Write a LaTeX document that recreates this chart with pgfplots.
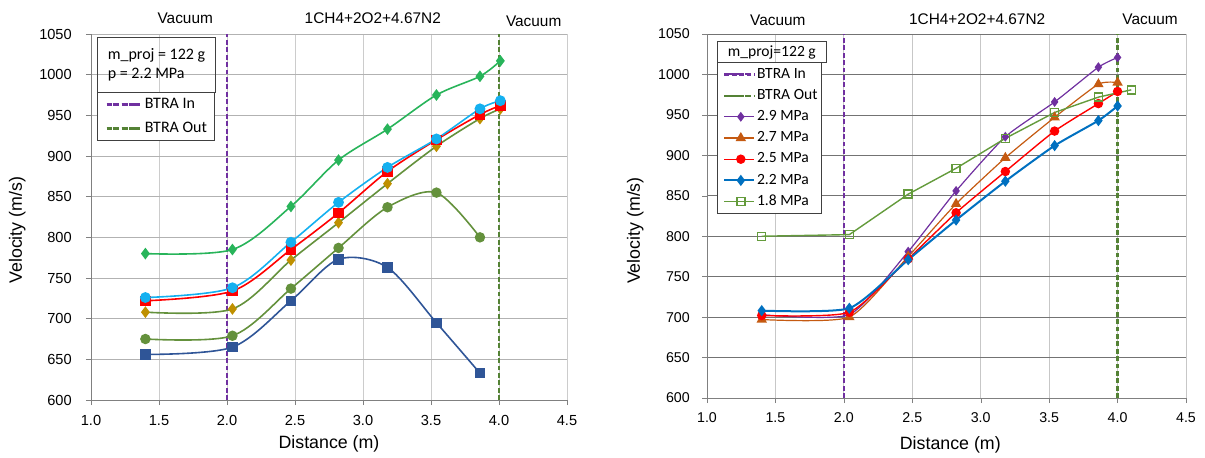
\documentclass[border=0pt]{standalone}
\usepackage{fontspec}
\setmainfont{Liberation Sans}
\newfontfamily\calib{Carlito}
\usepackage{pgfplots}
\pgfplotsset{compat=1.18}

\definecolor{cGreen}{RGB}{40,180,90}
\definecolor{cCyan}{RGB}{20,176,240}
\definecolor{cGold}{RGB}{191,144,0}
\definecolor{cOlive}{RGB}{100,145,60}
\definecolor{cNavy}{RGB}{47,85,151}
\definecolor{cPurple}{RGB}{112,48,160}
\definecolor{cDkGreen}{RGB}{84,130,53}
\definecolor{cOrange}{RGB}{197,90,17}
\definecolor{cBlue}{RGB}{0,112,192}
\definecolor{cLtGreen}{RGB}{100,155,60}

\newcommand{\lent}[3]{\makebox[#1][l]{\hspace*{#2}#3}}

\pgfplotsset{
  common/.style={
    scale only axis, clip=false,
    xmin=1, xmax=4.5, ymin=600, ymax=1050,
    xtick={1,1.5,...,4.5}, ytick={600,650,...,1050},
    axis x line*=bottom, axis y line*=left,
    axis line style={draw=black!50},
    tick align=outside, major tick length=2.5pt,
    tick style={draw=black!50},
    grid=major,
    /pgf/number format/assume math mode=true,
    xticklabel style={/pgf/number format/fixed, /pgf/number format/fixed zerofill,
      /pgf/number format/precision=1},
    yticklabel style={/pgf/number format/1000 sep={}},
    xlabel={Distance (m)}, ylabel={Velocity (m/s)},
    label style={font=\fontsize{8.9}{10}\selectfont},
  },
  dashlegL/.style={legend image code/.code={
      \path (0pt,0pt) -- (16.5pt,0pt);
      \draw[##1, line width=1.1pt, dash pattern=on 3pt off 1.5pt] (3pt,0pt) -- (16.5pt,0pt);}},
  dashlegR/.style={legend image code/.code={
      \path (0pt,0pt) -- (15pt,0pt);
      \draw[##1, line width=1pt, dash pattern=on 3pt off 1.5pt] (1.5pt,0pt) -- (15pt,0pt);}},
  marklegR/.style={legend image code/.code={
      \path (0pt,0pt) -- (15pt,0pt);
      \draw[##1, mark repeat=2, mark phase=2]
        plot coordinates {(1.5pt,0pt) (8.25pt,0pt) (15pt,0pt)};}},
}

\begin{document}
\begin{tikzpicture}[x=1pt,y=1pt]

% ---------------- left chart ----------------
\begin{axis}[common,
    at={(45.5pt,-200pt)}, anchor=south west,
    width=238pt, height=183pt,
    x grid style={black!20}, y grid style={black!30},
    ticklabel style={font=\fontsize{7.3}{8}\selectfont},
    xticklabel style={yshift=-1.5pt},
    yticklabel style={xshift=-3.6pt},
    xlabel style={at={(axis description cs:0.5,0)}, anchor=center, yshift=-22pt},
    ylabel style={at={(axis description cs:-0.155,0.464)}, anchor=center},
    legend style={at={(axis description cs:0.0126,0.8415)}, anchor=north west,
      draw=black!75, line width=0.5pt, inner xsep=4pt, inner ysep=0pt,
      row sep=0pt, font=\calib\fontsize{8}{9}\selectfont,
      nodes={text height=5.6pt, text depth=1.6pt, inner ysep=2.4pt, inner xsep=1pt}},
    legend cell align=left,
  ]
  \addplot[cPurple, line width=1.2pt, dash pattern=on 2.4pt off 1.3pt, dashlegL]
    coordinates {(2,600) (2,1050)};
  \addlegendentry{\lent{31pt}{1pt}{BTRA In}}
  \addplot[cDkGreen, line width=1.2pt, dash pattern=on 2.4pt off 1.3pt, dashlegL]
    coordinates {(4,600) (4,1050)};
  \addlegendentry{\lent{31pt}{1pt}{BTRA Out}}

  \addplot[forget plot, cGreen, line width=0.8pt, smooth, tension=0.5,
    mark=diamond*, mark size=2.3pt] coordinates {
    (1.40,780) (2.04,785) (2.47,838) (2.82,895) (3.18,933) (3.54,975) (3.86,998) (4.01,1017)};
  \addplot[forget plot, cOlive, line width=0.8pt, smooth, tension=0.5,
    mark=*, mark size=2.2pt] coordinates {
    (1.40,675) (2.04,679) (2.47,737) (2.82,787) (3.18,837) (3.54,855) (3.86,800)};
  \addplot[forget plot, cNavy, line width=0.8pt, smooth, tension=0.5,
    mark=square*, mark size=2.2pt] coordinates {
    (1.40,656) (2.04,665) (2.47,722) (2.82,773) (3.18,763) (3.54,695) (3.86,633)};
  \addplot[forget plot, cOlive, line width=0.8pt, smooth, tension=0.5,
    mark=diamond*, mark size=2.3pt, mark options={cGold}] coordinates {
    (1.40,708) (2.04,712) (2.47,772) (2.82,818) (3.18,866) (3.54,912) (3.86,946) (4.01,958)};
  \addplot[forget plot, red, line width=0.8pt, smooth, tension=0.5,
    mark=square*, mark size=2.2pt] coordinates {
    (1.40,722) (2.04,734) (2.47,785) (2.82,830) (3.18,881) (3.54,920) (3.86,951) (4.01,962)};
  \addplot[forget plot, cCyan, line width=0.8pt, smooth, tension=0.5,
    mark=*, mark size=2.3pt] coordinates {
    (1.40,726) (2.04,738) (2.47,794) (2.82,843) (3.18,886) (3.54,921) (3.86,958) (4.01,968)};

  \node[draw=black!75, line width=0.5pt, anchor=north west, minimum width=59pt,
    minimum height=27.5pt, align=left, inner xsep=4pt,
    font=\calib\fontsize{8}{9.4}\selectfont]
    at (axis description cs:0.0126,0.9918) {m\_proj = 122 g\\p = 2.2 MPa};

  \node[anchor=base, font=\fontsize{7.7}{9}\selectfont] at (axis description cs:0.198,1) [yshift=5.5pt] {Vacuum};
  \node[anchor=base, font=\fontsize{7.7}{9}\selectfont] at (axis description cs:0.592,1) [yshift=5.5pt] {1CH4+2O2+4.67N2};
  \node[anchor=base, font=\fontsize{7.7}{9}\selectfont] at (axis description cs:0.930,1) [yshift=4pt] {Vacuum};
\end{axis}

% ---------------- right chart ----------------
\begin{axis}[common,
    at={(353.5pt,-199pt)}, anchor=south west,
    width=239.5pt, height=182pt,
    x grid style={black!22}, y grid style={black!55},
    ticklabel style={font=\fontsize{7.1}{8}\selectfont},
    xticklabel style={yshift=-1.5pt},
    yticklabel style={xshift=-2.6pt},
    xlabel style={at={(axis description cs:0.508,0)}, anchor=center, yshift=-23.5pt},
    ylabel style={at={(axis description cs:-0.150,0.46)}, anchor=center},
    legend style={at={(axis description cs:0.0203,0.9223)}, anchor=north west,
      draw=black!75, line width=0.5pt, inner xsep=3pt, inner ysep=0.5pt,
      row sep=0pt, font=\calib\fontsize{7.8}{8.5}\selectfont,
      nodes={text height=5.2pt, text depth=1.5pt, inner ysep=1.95pt, inner xsep=0.8pt}},
    legend cell align=left,
  ]
  \addplot[cPurple, line width=1.1pt, dash pattern=on 2.4pt off 1.3pt, dashlegR]
    coordinates {(2,600) (2,1050)};
  \addlegendentry{\lent{28.5pt}{0pt}{BTRA In}}
  \addplot[cDkGreen, line width=1.1pt, dash pattern=on 2.4pt off 1.3pt, dashlegR]
    coordinates {(4,600) (4,1050)};
  \addlegendentry{\lent{28.5pt}{0pt}{BTRA Out}}

  \addplot[cPurple, line width=0.6pt, smooth, tension=0.35, marklegR,
    mark=diamond*, mark size=2pt] coordinates {
    (1.40,703) (2.04,703) (2.47,781) (2.82,856) (3.18,923) (3.54,966) (3.86,1009) (4.00,1021)};
  \addlegendentry{\lent{28.5pt}{0pt}{2.9 MPa}}
  \addplot[cOrange, line width=0.6pt, smooth, tension=0.35, marklegR,
    mark=triangle*, mark size=2.4pt] coordinates {
    (1.40,697) (2.04,700) (2.47,775) (2.82,840) (3.18,897) (3.54,947) (3.86,988) (4.00,990)};
  \addlegendentry{\lent{28.5pt}{0pt}{2.7 MPa}}
  \addplot[red, line width=0.7pt, smooth, tension=0.35, marklegR,
    mark=*, mark size=2pt] coordinates {
    (1.40,702) (2.04,706) (2.47,772) (2.82,829) (3.18,880) (3.54,930) (3.86,964) (4.00,979)};
  \addlegendentry{\lent{28.5pt}{0pt}{2.5 MPa}}
  \addplot[cBlue, line width=1pt, smooth, tension=0.35, marklegR,
    mark=diamond*, mark size=2pt] coordinates {
    (1.40,708) (2.04,711) (2.47,771) (2.82,820) (3.18,868) (3.54,912) (3.86,943) (4.00,961)};
  \addlegendentry{\lent{28.5pt}{0pt}{2.2 MPa}}
  \addplot[cLtGreen, line width=0.7pt, marklegR,
    mark=square, mark size=2pt, mark options={fill=white, line width=0.7pt}] coordinates {
    (1.40,800) (2.04,802) (2.47,852) (2.82,884) (3.18,921) (3.54,953) (3.86,972) (4.10,981)};
  \addlegendentry{\lent{28.5pt}{0pt}{1.8 MPa}}

  \node[draw=black!75, line width=0.5pt, anchor=north west, minimum width=54.6pt,
    minimum height=10.8pt, inner sep=0pt,
    font=\calib\fontsize{7.8}{8.5}\selectfont]
    at (axis description cs:0.0203,0.9816) {m\_proj=122 g};

  \node[anchor=base, font=\fontsize{7.7}{9}\selectfont] at (axis description cs:0.148,1) [yshift=4.5pt] {Vacuum};
  \node[anchor=base, font=\fontsize{7.7}{9}\selectfont] at (axis description cs:0.564,1) [yshift=5pt] {1CH4+2O2+4.67N2};
  \node[anchor=base, font=\fontsize{7.7}{9}\selectfont] at (axis description cs:0.925,1) [yshift=5pt] {Vacuum};
\end{axis}

\pgfresetboundingbox
\path[use as bounding box] (0pt,0pt) rectangle (602.5pt,-228.5pt);
\end{tikzpicture}
\end{document}
